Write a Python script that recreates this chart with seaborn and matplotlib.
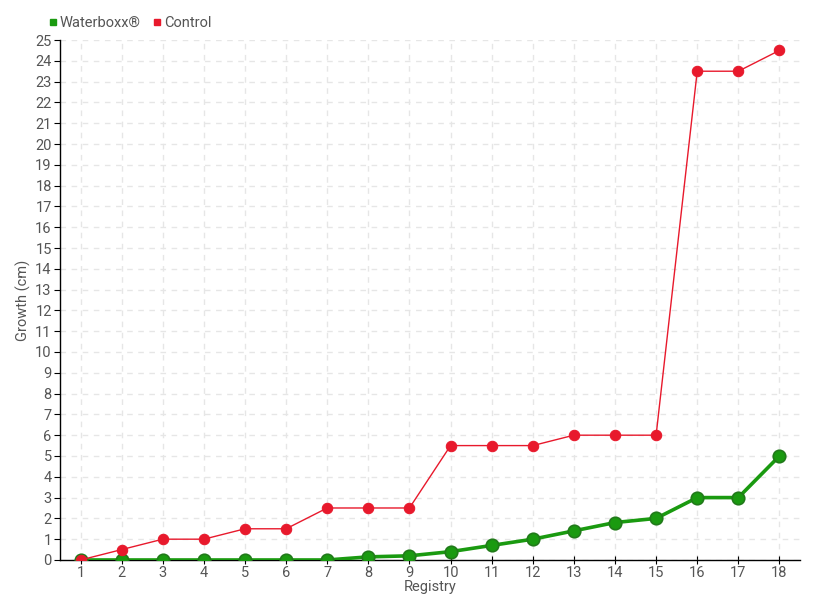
import pandas as pd
import seaborn as sns
import matplotlib.pyplot as plt
from matplotlib.lines import Line2D

# Growth per registry
registry = list(range(1, 19))
waterboxx = [0, 0, 0, 0, 0, 0, 0, 0.15, 0.2, 0.4, 0.7, 1.0, 1.4, 1.8, 2.0, 3.0, 3.0, 5.0]
control = [0, 0.5, 1, 1, 1.5, 1.5, 2.5, 2.5, 2.5, 5.5, 5.5, 5.5, 6, 6, 6, 23.5, 23.5, 24.5]

green = "#1a9a10"
red = "#e8192c"
text_col = "#555555"

sns.set_style("white")
plt.rcParams["font.family"] = ["Roboto", "DejaVu Sans"]

df = pd.DataFrame({"Registry": registry, "Waterboxx": waterboxx, "Control": control})

fig = plt.figure(figsize=(8.2, 6), dpi=100)
ax = fig.add_axes([0.0732, 0.0667, 0.9024, 0.8666])

sns.lineplot(data=df, x="Registry", y="Waterboxx", ax=ax, color=green, linewidth=2.6,
             marker="o", markersize=9, markerfacecolor=green, markeredgecolor="#217a1a",
             markeredgewidth=1.2, zorder=3)
sns.lineplot(data=df, x="Registry", y="Control", ax=ax, color=red, linewidth=1,
             marker="o", markersize=7.5, markerfacecolor=red, markeredgecolor=red, zorder=4)

ax.set_xlim(0.5, 18.5)
ax.set_ylim(0, 25)
ax.set_xticks(registry)
ax.set_yticks(range(0, 26))
ax.grid(True, color="#e6e6e6", linestyle=(0, (4, 4)), linewidth=1)
ax.set_axisbelow(True)
for s in ["top", "right"]:
    ax.spines[s].set_visible(False)
for s in ["left", "bottom"]:
    ax.spines[s].set_color("black")
    ax.spines[s].set_linewidth(1)
ax.tick_params(axis="y", direction="out", length=4, colors="black", labelcolor=text_col,
               labelsize=10.5, pad=2, left=True)
ax.tick_params(axis="x", direction="inout", length=6, colors="black", labelcolor=text_col,
               labelsize=10.5, pad=1, bottom=True)
ax.set_xlabel("Registry", color=text_col, fontsize=10.5, labelpad=0)
ax.set_ylabel("Growth (cm)", color=text_col, fontsize=10.5, labelpad=3)

handles = [Line2D([], [], linestyle="none", marker="s", markersize=5, color=green),
           Line2D([], [], linestyle="none", marker="s", markersize=5, color=red)]
leg = fig.legend(handles, ["Waterboxx®", "Control"], loc="upper left",
                 bbox_to_anchor=(0.043, 0.995), frameon=False, ncol=2, fontsize=10.5,
                 handlelength=0.6, handletextpad=0.2, columnspacing=0.8)
for t in leg.get_texts():
    t.set_color(text_col)

fig.savefig("out.png", dpi=100)
